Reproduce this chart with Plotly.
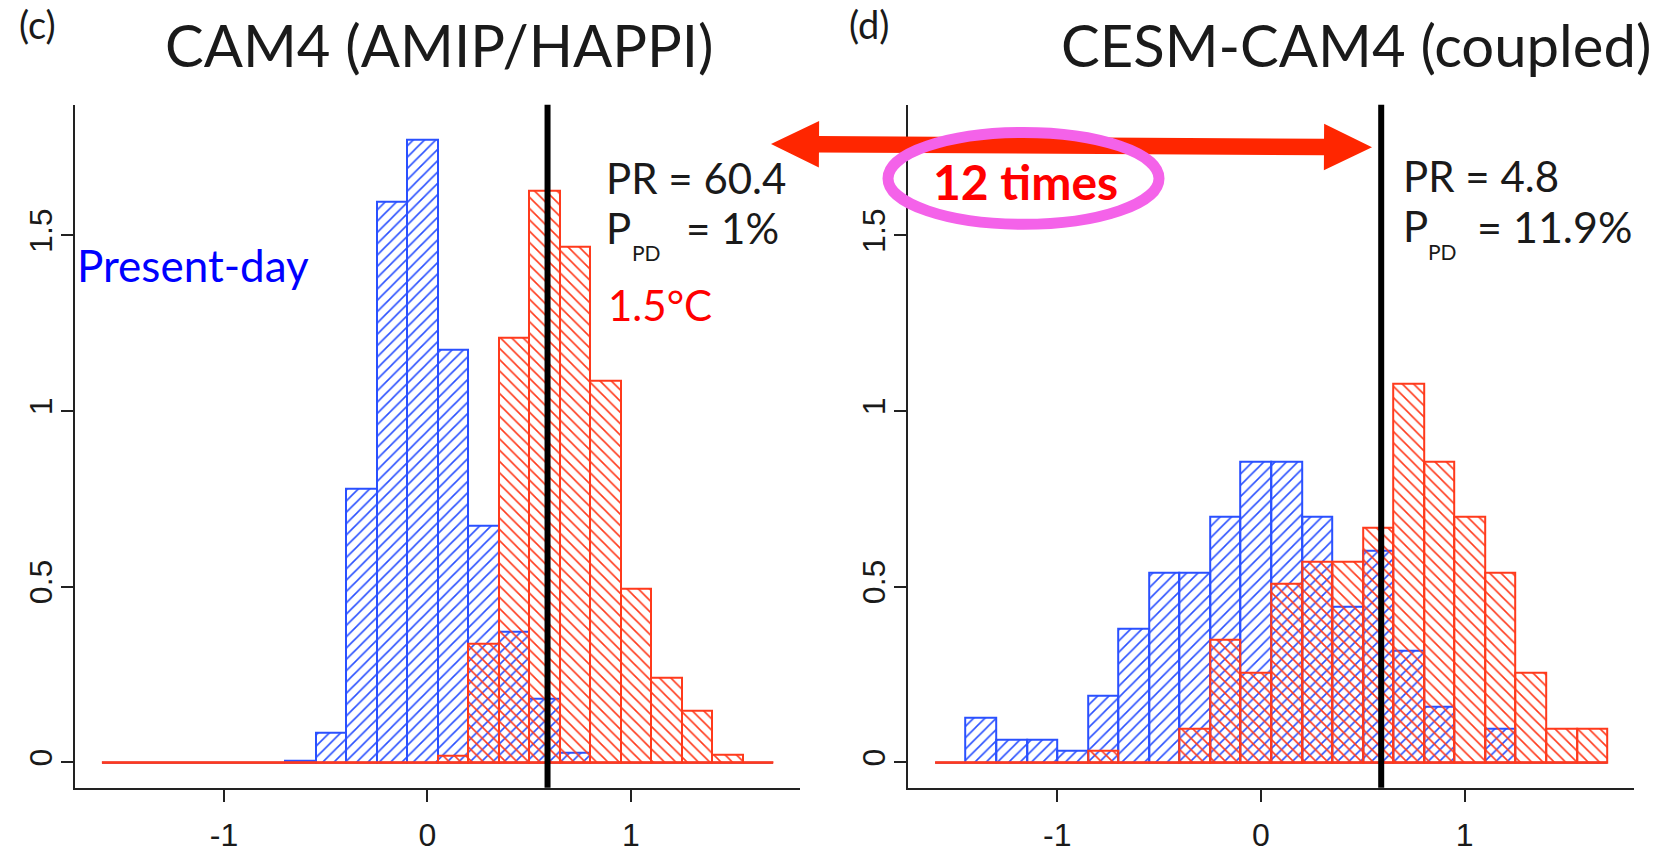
import math
import plotly.graph_objects as go

W, H = 1677, 853

# ---------------- data ----------------
BIN_EDGES = [-1.6, -1.45, -1.3, -1.15, -1.0, -0.85, -0.7, -0.55, -0.4, -0.25, -0.1,
             0.05, 0.2, 0.35, 0.5, 0.65, 0.8, 0.95, 1.1, 1.25, 1.4, 1.55, 1.7]

# panel (c): CAM4 (AMIP/HAPPI) densities
AMIP_PRESENT = [0, 0, 0, 0, 0, 0, 0.005, 0.084, 0.78, 1.596, 1.773,
                1.175, 0.674, 0.371, 0.181, 0.027, 0, 0, 0, 0, 0, 0]
AMIP_15C = [0, 0, 0, 0, 0, 0, 0, 0, 0, 0, 0,
            0.019, 0.337, 1.21, 1.626, 1.467, 1.087, 0.494, 0.242, 0.146, 0.023, 0]

# panel (d): CESM-CAM4 (coupled) densities
COUPLED_PRESENT = [0, 0.127, 0.063, 0.063, 0.032, 0.190, 0.381, 0.540, 0.540, 0.698, 0.857,
                   0.857, 0.698, 0.444, 0.603, 0.317, 0.159, 0, 0.095, 0, 0, 0]
COUPLED_15C = [0, 0, 0, 0, 0, 0.032, 0, 0, 0.095, 0.349, 0.254,
               0.508, 0.571, 0.571, 0.667, 1.079, 0.857, 0.698, 0.540, 0.254, 0.095, 0.095]

THRESHOLD = 0.59
X_TICKS = [-1, 0, 1]
X_TICK_TEXT = ["-1", "0", "1"]
Y_TICKS = [0, 0.5, 1, 1.5]
Y_TICK_TEXT = ["0", "0.5", "1", "1.5"]
PANEL_LETTERS = ["(c)", "(d)"]
PANEL_TITLES = ["CAM4 (AMIP/HAPPI)", "CESM-CAM4 (coupled)"]
PR_VALUES = ["60.4", "4.8"]
PPD_VALUES = ["1%", "11.9%"]
RATIO_TEXT = "12 times"

# ---------------- styling ----------------
BLUE = "#2a50ff"
RED = "#ff3a1c"
AXIS = "#222222"
TXT = "#1a1a1a"
TEXT_FONT = "Lato, 'Open Sans', sans-serif"
TICK_FONT = "'Liberation Sans Narrow', 'Liberation Sans', Arial, sans-serif"

centers = [(a + b) / 2 for a, b in zip(BIN_EDGES[:-1], BIN_EDGES[1:])]
widths = [b - a for a, b in zip(BIN_EDGES[:-1], BIN_EDGES[1:])]

fig = go.Figure()

panels = [(AMIP_PRESENT, AMIP_15C, "x", "y"), (COUPLED_PRESENT, COUPLED_15C, "x2", "y2")]
for present, warm, xa, ya in panels:
    fig.add_trace(go.Bar(
        x=centers, y=present, width=widths, xaxis=xa, yaxis=ya,
        marker=dict(color=BLUE, line=dict(color=BLUE, width=2),
                    pattern=dict(shape="/", size=8.0, solidity=0.2, fillmode="replace")),
        showlegend=False, hoverinfo="skip"))
    fig.add_trace(go.Bar(
        x=centers, y=warm, width=widths, xaxis=xa, yaxis=ya,
        marker=dict(color=RED, line=dict(color=RED, width=2),
                    pattern=dict(shape="\\", size=8.0, solidity=0.2, fillmode="replace")),
        showlegend=False, hoverinfo="skip"))
    fig.add_trace(go.Scatter(
        x=[BIN_EDGES[0], BIN_EDGES[-1]], y=[0, 0], mode="lines", xaxis=xa, yaxis=ya,
        line=dict(color=RED, width=2.2), showlegend=False, hoverinfo="skip"))

# threshold lines
for xa, ya in [("x", "y"), ("x2", "y2")]:
    fig.add_shape(type="line", xref=xa, yref=ya + " domain", x0=THRESHOLD, x1=THRESHOLD,
                  y0=0, y1=1, line=dict(color="black", width=6), layer="above")

# ---------------- axes ----------------
y_dom = [1 - 797 / H, 1 - 106 / H]
x_doms = [[75 / W, 800.3 / W], [908.2 / W, 1634.2 / W]]
axis_common = dict(showline=True, linecolor=AXIS, linewidth=2, ticks="outside", ticklen=12,
                   tickwidth=2, tickcolor=AXIS, showgrid=False, zeroline=False,
                   tickfont=dict(family=TICK_FONT, size=32, color=TXT), fixedrange=True)
layout_axes = {}
for i, (xa, ya) in enumerate([("x", "y"), ("x2", "y2")]):
    xk = "xaxis" if i == 0 else "xaxis2"
    yk = "yaxis" if i == 0 else "yaxis2"
    layout_axes[xk] = dict(domain=x_doms[i], range=[-1.732, 1.832], anchor=ya,
                           tickvals=X_TICKS, ticktext=X_TICK_TEXT, ticklabelstandoff=6, **axis_common)
    layout_axes[yk] = dict(domain=y_dom, range=[-0.072, 1.872], anchor=xa,
                           tickvals=Y_TICKS, ticktext=Y_TICK_TEXT, tickangle=-90,
                           ticklabelstandoff=-4, **axis_common)


# ---------------- annotations ----------------
def px(x):
    return x / W


def py(y):
    return 1 - y / H


annotations = []


def txt(x, y, text, size, color=TXT, xanchor="left", bold=False):
    annotations.append(dict(
        x=px(x), y=py(y), xref="paper", yref="paper", text=("<b>%s</b>" % text) if bold else text,
        showarrow=False, xanchor=xanchor, yanchor="middle",
        font=dict(family=TEXT_FONT, size=size, color=color), borderpad=0))


txt(37, 24, PANEL_LETTERS[0], 38, xanchor="center")
txt(869, 24, PANEL_LETTERS[1], 38, xanchor="center")
txt(440, 45, PANEL_TITLES[0], 58, xanchor="center")
txt(1356, 45, PANEL_TITLES[1], 58, xanchor="center")

txt(605, 180, "PR = " + PR_VALUES[0], 42)
txt(605, 231, "P", 42)
txt(631, 256, "PD", 21)
txt(685, 231, "= " + PPD_VALUES[0], 42)
txt(607, 309, "1.5°C", 42, color="#ff0000")
txt(76, 268, "Present-day", 44, color="#0000ff")

txt(1402, 178, "PR = " + PR_VALUES[1], 42)
txt(1402, 229, "P", 42)
txt(1427, 254, "PD", 21)
txt(1476, 229, "= " + PPD_VALUES[1], 43)

# ---------------- arrow + ellipse ----------------
L = (771.0, 145.7)
R = (1372.0, 149.0)
dx, dy = R[0] - L[0], R[1] - L[1]
d = math.hypot(dx, dy)
ux, uy = dx / d, dy / d
nx, ny = -uy, ux
hl, hw, st = 48.0, 23.5, 8.3


def P(base, a, b):
    return (base[0] + ux * a + nx * b, base[1] + uy * a + ny * b)


pts = [L, P(L, hl, hw), P(L, hl, st), P(R, -hl, st), P(R, -hl, hw), R,
       P(R, -hl, -hw), P(R, -hl, -st), P(L, hl, -st), P(L, hl, -hw)]
path = "M " + " L ".join("%.5f,%.5f" % (px(x), py(y)) for x, y in pts) + " Z"
shapes = [dict(type="path", xref="paper", yref="paper", path=path,
               fillcolor="#ff2600", line=dict(width=0), layer="above"),
          dict(type="circle", xref="paper", yref="paper",
               x0=px(888), x1=px(1159), y0=py(227), y1=py(134),
               line=dict(color="#f462e9", width=11), layer="above")]

txt(1025, 184, RATIO_TEXT, 48, color="#ff0000", xanchor="center", bold=True)

fig.update_layout(
    width=W, height=H, margin=dict(l=0, r=0, t=0, b=0),
    paper_bgcolor="white", plot_bgcolor="white",
    barmode="overlay", bargap=0, showlegend=False,
    annotations=annotations,
    **layout_axes,
)
for s in shapes:
    fig.add_shape(**s)

fig.write_html("out.html")
